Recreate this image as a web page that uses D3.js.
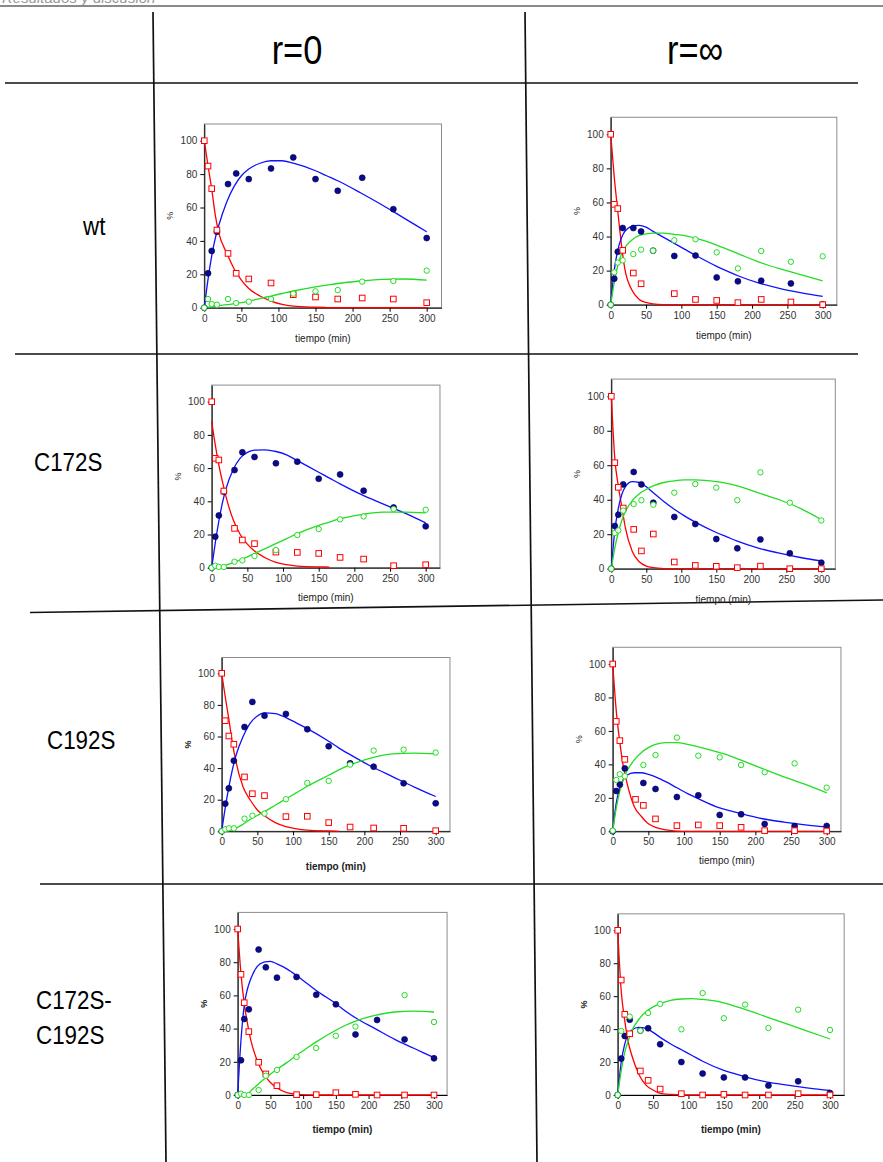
<!DOCTYPE html>
<html lang="en">
  <head>
    <meta charset="utf-8">
    <title>Cinéticas wt / C172S / C192S</title>
    <script type="text/javascript" src="https://cdn.jsdelivr.net/npm/d3@7"></script>
    <style>
      body { margin: 0; background: white; }
      svg { display: block; }
    </style>
  </head>
  <body>
    <script>
      // sampling times of the measurements (min)
      var times = [0, 5, 10, 17, 32, 43, 60, 90, 120, 150, 180, 213, 255, 300]
      var fitTimes = [0, 5, 10, 15, 20, 30, 40, 50, 60, 75, 90, 105, 120, 150, 165, 180, 210, 240, 270, 300]
      var xTicks = [0, 50, 100, 150, 200, 250, 300]
      var yTicks = [0, 20, 40, 60, 80, 100]
      var colLabels = ['r=0', 'r=\u221e']
      var rowLabels = [['wt'], ['C172S'], ['C192S'], ['C172S-', 'C192S']]

      // wt, r=0
      var wt0Blue  = [0, 20.6, 34, 45.5, 74, 80.4, 77, 83.4, 90, 77, 70, 77.8, 59, 41.7]
      var wt0Red   = [100, 84.8, 71.3, 46.5, 32.5, 20.6, 17.2, 14.8, 7.8, 6.4, 5.2, 5.8, 5.2, 3]
      var wt0Green = [0, 5.2, 2.2, 1.8, 5.2, 2.8, 3.6, 5.2, 8.4, 9.8, 10.6, 15.6, 16, 22.2]
      var wt0BlueFit  = [0, 17, 31, 42, 50, 63, 72.5, 79, 83, 86.5, 88, 88, 86.5, 82, 79, 76, 69, 61.5, 53.5, 45.5]
      var wt0RedFit   = [100, 85, 71, 55, 44, 33, 23.5, 16.5, 11.5, 7, 4, 2, 1, 0.3, 0.1, 0, 0, 0, 0, 0]
      var wt0GreenFit = [0, 0.3, 0.6, 1, 1.3, 1.8, 2.4, 3, 4, 5.5, 7, 8.5, 10, 12.5, 13.5, 14.5, 16, 17, 17.2, 16.5]

      // wt, r=inf
      var wtInfBlue  = [0, 15.3, 31.1, 45, 45, 43, 31.7, 28.6, 28.8, 16, 13.7, 14.1, 12.5, 0.2]
      var wtInfRed   = [100, 58.9, 56.4, 31.9, 18.6, 12.3, null, 6.5, 3.1, 2.5, 1.2, 3.1, 1.6, 0]
      var wtInfGreen = [0, 19, 24.7, 26, 29.7, 32.3, 31.7, 37.8, 38.4, 30.7, 21.3, 31.5, 25.2, 28.4]
      var wtInfBlueFit  = [0, 20, 32, 39, 43, 46, 46.5, 45.5, 43, 39.5, 36, 32.5, 29, 22.5, 19.7, 17, 12.7, 9.5, 7, 4.9]
      var wtInfRedFit   = [100, 75, 55, 36, 21, 8.6, 3.2, 1.3, 0.5, 0.1, 0, 0, 0, 0, 0, 0, 0, 0, 0, 0]
      var wtInfGreenFit = [0, 13, 23, 29.5, 33.5, 38, 40.5, 41.5, 42, 42, 41.3, 40.5, 39, 35, 32.5, 30, 25, 21, 17.5, 14]

      // C172S, r=0
      var c172s0Blue  = [0, 18.7, 31.5, 45.8, 58.8, 69.5, 66.7, 62.9, 63.9, 53.6, 56.2, 46.4, 36.3, 24.9]
      var c172s0Red   = [100, 65.9, 64.9, 46.2, 23.7, 16.7, 14.5, 9.4, 9.2, 8.6, 6.2, 5.2, 1.2, 1.8]
      var c172s0Green = [0, 1.2, 0.5, 0.4, 3.6, 4.4, 7, 10.6, 19.7, 23.3, 29.1, 30.9, 35.3, 34.9]
      var c172s0BlueFit  = [0, 15, 28, 39, 47.5, 59, 66, 69.5, 70.8, 71, 70, 68, 64.5, 57.5, 54, 50.5, 44, 38.5, 33, 27]
      var c172s0RedFit   = [88, 74, 62, 52, 43, 29, 20, 14.2, 10, 6, 3.2, 1.8, 1, 0.5, 0.4, null, null, null, null, null]
      var c172s0GreenFit = [0, 0.1, 0.3, 0.8, 1.5, 3, 4.7, 6.5, 8.5, 11.5, 14.5, 17.5, 20.5, 25.5, 27.5, 29.5, 32, 33.5, 33.5, 33]

      // C172S, r=inf
      var c172sInfBlue  = [0, 24.8, 31.3, 48.9, 56.1, 48.9, 38.3, 30, 25.9, 17.2, 11.8, 17, 8.9, 3.5]
      var c172sInfRed   = [100, 61.5, 47.2, 35.2, 22.8, 10.3, 20.1, 3.9, 1.9, 1.4, 0.6, 1.5, 0, 0]
      var c172sInfGreen = [0, 20.7, 22.2, 33.7, 37.5, 39.7, 37.1, 44.1, 49.1, 47, 39.7, 55.9, 38.3, 28]
      var c172sInfBlueFit  = [0, 22, 35, 43, 47.5, 50.5, 50, 47.5, 44, 39, 34.5, 30.5, 27, 21, 18.5, 16, 12, 9, 6.5, 4.5]
      var c172sInfRedFit   = [100, 64, 48, 36, 24, 10, 4, 1.5, 0.6, 0.1, 0, 0, 0, 0, 0, 0, 0, 0, 0, 0]
      var c172sInfGreenFit = [0, 12, 21, 28, 33, 39.5, 43.5, 46, 48, 50, 51, 51.5, 51.5, 50.5, 49.5, 48, 44, 40, 35, 28.5]

      // C192S, r=0
      var c192s0Blue  = [0, 17.5, 27.2, 44.7, 66, 81.9, 73.2, 74.3, 64.6, 53.8, 43, 40.9, 30.4, 17.7]
      var c192s0Red   = [100, 70, 60.3, 55.1, 34.4, 23.8, 22.6, 9.3, 9.5, 5.5, 2.7, 2.1, 1.9, 0.4]
      var c192s0Green = [0, 1.3, 1.9, 1.9, 8, 9.9, 11.2, 20.3, 30.6, 31.9, 42.2, 51.1, 51.7, 49.8]
      var c192s0BlueFit  = [0, 15, 28, 39, 48, 60, 68.5, 73, 75, 74.5, 72, 68.5, 65, 57, 52.5, 48.5, 41, 34.5, 28, 22]
      var c192s0RedFit   = [100, 85, 71, 56, 44, 28, 19.8, 13.5, 9.8, 5.5, 3, 1.6, 0.8, 0.2, 0, null, null, null, null, null]
      var c192s0GreenFit = [0, 0.2, 0.5, 1.2, 2, 4.5, 7.5, 10, 12.5, 16.5, 20.5, 24.5, 28.5, 35.5, 39, 42, 46.5, 49, 49.5, 49]

      // C192S, r=inf
      var c192sInfBlue  = [0, 24.1, 27.9, 37.6, null, 28.9, 25.3, 20.5, 21.5, 9.8, 10.2, 4.4, 3.2, 3.2]
      var c192sInfRed   = [100, 65.7, 54.2, 43, 19.1, 15.5, 7.4, 3.4, 3.8, 3.4, 2.4, 0.4, 0.4, 0.2]
      var c192sInfGreen = [0.4, 30.7, 34.1, 32.9, null, 39.6, 45.6, 56, 45.2, 44.2, 39.6, 35.3, 40.6, 26.1]
      var c192sInfBlueFit  = [0, 17, 26, 31, 33.5, 35, 35, 34, 32.5, 29.5, 26, 22.5, 19.5, 14, 12.2, 10.5, 7.5, 5.5, 3.8, 2.5]
      var c192sInfRedFit   = [100, 72, 53, 38.6, 29, 15, 9, 4.5, 2.4, 0.8, 0.1, 0, 0, 0, 0, 0, 0, 0, 0, 0]
      var c192sInfGreenFit = [0, 14, 24, 31, 36, 42.5, 47, 50, 52, 53, 53, 52, 50.5, 47, 45, 42.5, 37.5, 32.5, 28, 23]

      // C172S-C192S, r=0
      var dbl0Blue  = [0, 20.9, 45.8, 51.6, 87.6, 76.9, 70.7, 71.1, 60.4, 54.6, 36.5, 45.2, 33.5, 22.1]
      var dbl0Red   = [100, 72.7, 55.6, 38.2, 19.7, 12.7, 5.6, 0.2, 0.2, 1.4, 0.4, 0, 0, 0]
      var dbl0Green = [0, 0.8, 0, 0, 3, 11.6, 15.1, 22.9, 28.3, 35.7, 41.2, null, 60.2, 44]
      var dbl0BlueFit  = [0, 33, 54, 64, 70, 77.5, 80, 80.5, 79, 76, 72, 67.5, 63, 55, 50.5, 46.5, 40, 33.5, 28, 22.5]
      var dbl0RedFit   = [100, 73, 55, 43, 33, 20.5, 12.5, 7.5, 4.2, 1.5, 0.5, 0.1, 0, 0, 0, 0, 0, 0, 0, 0]
      var dbl0GreenFit = [0, 0, 0, 0.5, 2.5, 6, 9.5, 12.5, 15.5, 19.5, 24, 28, 32, 39, 42, 44.5, 48, 50, 50.5, 50]

      // C172S-C192S, r=inf
      var dblInfBlue  = [0, 22.1, 35.8, 45.7, 39.1, 40.5, 30.8, 20, 13, 10.7, 10.7, 5.7, 8.3, 1.2]
      var dblInfRed   = [100, 69.8, 49, 37.2, 14.6, 8.9, 3.6, 0.8, 0, 0.4, 0, 0, 0.8, 0]
      var dblInfGreen = [0, 38.9, null, 47.6, 39.1, 49.8, 55.3, 39.9, 61.9, 46.6, 54.9, 40.7, 51.8, 39.5]
      var dblInfBlueFit  = [0, 20, 31, 37, 39.5, 41, 40.5, 38, 35, 31, 27.5, 24, 20.5, 15, 13, 11, 8, 6, 4.2, 2.8]
      var dblInfRedFit   = [100, 63, 45, 32, 24, 12.5, 6, 3, 1, 0.3, 0, 0, 0, 0, 0, 0, 0, 0, 0, 0]
      var dblInfGreenFit = [0, 15, 26, 33, 39, 46, 50.5, 53.5, 55.5, 57.5, 58.3, 58.5, 58, 56, 54, 52, 47.5, 43, 38.5, 34]

      var panels = [
        { blue: wt0Blue, red: wt0Red, green: wt0Green, blueFit: wt0BlueFit, redFit: wt0RedFit, greenFit: wt0GreenFit },
        { blue: wtInfBlue, red: wtInfRed, green: wtInfGreen, blueFit: wtInfBlueFit, redFit: wtInfRedFit, greenFit: wtInfGreenFit },
        { blue: c172s0Blue, red: c172s0Red, green: c172s0Green, blueFit: c172s0BlueFit, redFit: c172s0RedFit, greenFit: c172s0GreenFit },
        { blue: c172sInfBlue, red: c172sInfRed, green: c172sInfGreen, blueFit: c172sInfBlueFit, redFit: c172sInfRedFit, greenFit: c172sInfGreenFit },
        { blue: c192s0Blue, red: c192s0Red, green: c192s0Green, blueFit: c192s0BlueFit, redFit: c192s0RedFit, greenFit: c192s0GreenFit },
        { blue: c192sInfBlue, red: c192sInfRed, green: c192sInfGreen, blueFit: c192sInfBlueFit, redFit: c192sInfRedFit, greenFit: c192sInfGreenFit },
        { blue: dbl0Blue, red: dbl0Red, green: dbl0Green, blueFit: dbl0BlueFit, redFit: dbl0RedFit, greenFit: dbl0GreenFit },
        { blue: dblInfBlue, red: dblInfRed, green: dblInfGreen, blueFit: dblInfBlueFit, redFit: dblInfRedFit, greenFit: dblInfGreenFit }
      ]

      // where each little chart sits on the page: pixel of t=0 / t=300 and of 0% / 100%
      var boxes = [
        { x0: 204.3, x300: 426.7, y0: 307.7, y100: 140.7, bold: false, lab: 34 },
        { x0: 610.7, x300: 822.7, y0: 304.7, y100: 134.3, bold: false, lab: 34 },
        { x0: 211.7, x300: 425.7, y0: 567.7, y100: 401.7, bold: false, lab: 33 },
        { x0: 611.3, x300: 821.3, y0: 568.7, y100: 396.3, bold: false, lab: 34 },
        { x0: 221.7, x300: 435.7, y0: 831.3, y100: 673.3, bold: true, lab: 39 },
        { x0: 612.7, x300: 826.7, y0: 831.3, y100: 664, bold: false, lab: 33 },
        { x0: 237.7, x300: 434, y0: 1095, y100: 929, bold: true, lab: 38 },
        { x0: 617.7, x300: 830, y0: 1095, y100: 930.3, bold: true, lab: 38 }
      ]

      var font = 'Liberation Sans, Arial, Helvetica, sans-serif'
      var svg = d3.select('body').append('svg').attr('width', 883).attr('height', 1162)
      svg.append('rect').attr('width', 883).attr('height', 1162).attr('fill', 'white')

      // ---- table ----
      // running header of the page, mostly cut off by the crop (as in the scan)
      svg.append('text').attr('x', 2).attr('y', 3).attr('font-family', font).attr('font-style', 'italic')
        .attr('font-size', 15).attr('fill', '#9a9a9a').text('Resultados y discusión')
      svg.append('line').attr('x1', 0).attr('y1', 6).attr('x2', 883).attr('y2', 6)
        .attr('stroke', '#8a8a8a').attr('stroke-width', 2)

      var rules = [[5, 83, 858, 83], [15, 354, 858, 354], [30, 612.5, 883, 600], [40, 884, 883, 884],
                   [153, 12, 166, 1162], [525, 12, 537, 1162]]
      svg.selectAll('line.rule').data(rules).enter().append('line').attr('class', 'rule')
        .attr('x1', function(d) { return d[0] }).attr('y1', function(d) { return d[1] })
        .attr('x2', function(d) { return d[2] }).attr('y2', function(d) { return d[3] })
        .attr('stroke', '#111').attr('stroke-width', 1.7)

      var colX = [297, 695]
      colLabels.forEach(function(c, i) {
        svg.append('text').attr('transform', 'translate(' + colX[i] + ',64) scale(0.84,1)')
          .attr('text-anchor', 'middle').attr('font-family', font).attr('font-size', 41).text(c)
      })

      var rowPos = [[83, 235], [34, 471], [47, 749], [36, 1009]]
      rowLabels.forEach(function(lines, i) {
        lines.forEach(function(s, k) {
          svg.append('text').attr('transform', 'translate(' + rowPos[i][0] + ',' + (rowPos[i][1] + k * 35) + ') scale(0.86,1)')
            .attr('font-family', font).attr('font-size', 26).text(s)
        })
      })

      // ---- the eight charts ----
      function drawPanel(p, box) {
        var k = (box.x300 - box.x0) / 300
        var x = d3.scaleLinear().domain([0, 320]).range([box.x0, box.x0 + 320 * k])
        var v = (box.y0 - box.y100) / 100
        var y = d3.scaleLinear().domain([0, 110]).range([box.y0, box.y0 - 110 * v])
        var g = svg.append('g')

        // plot frame, grey on top and right
        g.append('rect').attr('x', x(0)).attr('y', y(110)).attr('width', x(320) - x(0)).attr('height', y(0) - y(110))
          .attr('fill', 'white').attr('stroke', '#8c8c8c').attr('stroke-width', 1)

        g.append('g').attr('transform', 'translate(0,' + y(0) + ')')
          .call(d3.axisBottom(x).tickValues(xTicks).tickSize(4).tickSizeOuter(0))
        g.append('g').attr('transform', 'translate(' + x(0) + ',0)')
          .call(d3.axisLeft(y).tickValues(yTicks).tickSize(4).tickSizeOuter(0))
        g.selectAll('.domain').attr('stroke', '#000')
        g.selectAll('.tick line').attr('stroke', '#000')
        g.selectAll('.tick text').attr('font-family', font).attr('font-size', 10).attr('fill', '#333')

        g.append('text').attr('x', (x(0) + x(320)) / 2).attr('y', y(0) + box.lab)
          .attr('text-anchor', 'middle').attr('font-family', font).attr('font-size', 10)
          .attr('font-weight', box.bold ? 'bold' : 'normal').attr('fill', '#222').text('tiempo (min)')
        g.append('text').attr('transform', 'translate(' + (x(0) - 31) + ',' + (y(55)) + ') rotate(-90)')
          .attr('text-anchor', 'middle').attr('font-family', font).attr('font-size', 9)
          .attr('font-weight', box.bold ? 'bold' : 'normal').attr('fill', '#222').text('%')

        // fitted curves
        function fit(vals) {
          return fitTimes.map(function(t, i) { return [t, vals[i]] })
        }
        var line = d3.line()
          .defined(function(d) { return d[1] != null })
          .x(function(d) { return x(d[0]) })
          .y(function(d) { return y(d[1]) })
          .curve(d3.curveMonotoneX)
        var fits = [[p.redFit, '#ff0000'], [p.blueFit, '#1010ff'], [p.greenFit, '#22dd22']]
        fits.forEach(function(f) {
          g.append('path').datum(fit(f[0])).attr('d', line).attr('fill', 'none')
            .attr('stroke', f[1]).attr('stroke-width', 1.3)
        })

        function pts(vals) {
          return times.map(function(t, i) { return { t: t, v: vals[i] } }).filter(function(d) { return d.v != null })
        }
        // measured points
        g.selectAll('circle.blue').data(pts(p.blue)).enter().append('circle').attr('class', 'blue')
          .attr('cx', function(d) { return x(d.t) }).attr('cy', function(d) { return y(d.v) })
          .attr('r', 3).attr('fill', '#0a0a8c').attr('stroke', '#000050').attr('stroke-width', 0.6)
        g.selectAll('rect.red').data(pts(p.red)).enter().append('rect').attr('class', 'red')
          .attr('x', function(d) { return x(d.t) - 2.8 }).attr('y', function(d) { return y(d.v) - 2.8 })
          .attr('width', 5.6).attr('height', 5.6).attr('fill', 'white').attr('stroke', '#ff0000').attr('stroke-width', 1)
        g.selectAll('circle.green').data(pts(p.green)).enter().append('circle').attr('class', 'green')
          .attr('cx', function(d) { return x(d.t) }).attr('cy', function(d) { return y(d.v) })
          .attr('r', 2.7).attr('fill', 'white').attr('stroke', '#22dd22').attr('stroke-width', 1)
      }

      panels.forEach(function(p, i) { drawPanel(p, boxes[i]) })
    </script>
  </body>
</html>
